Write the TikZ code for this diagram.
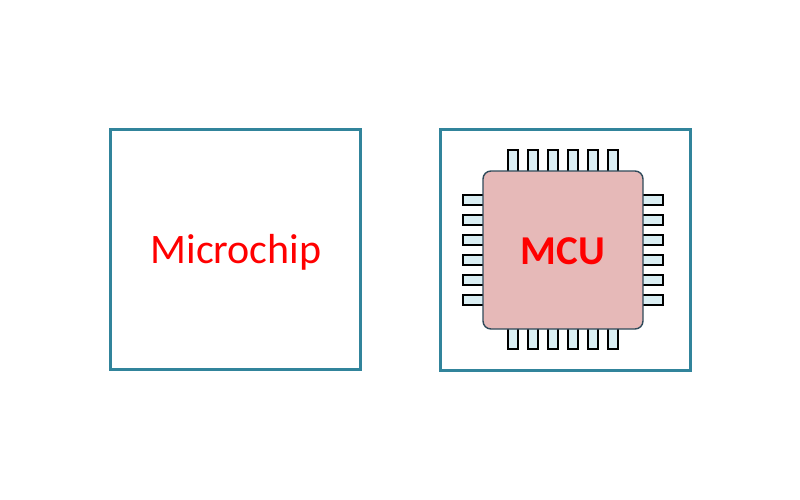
\documentclass[tikz,border=0pt]{standalone}
\usepackage{fontspec}
\setmainfont{Carlito}
\definecolor{frame}{HTML}{31849B}
\definecolor{pinfill}{HTML}{DAEEF3}
\definecolor{bodyfill}{HTML}{E6B9B8}
\definecolor{bodyline}{HTML}{2F4A5A}
\begin{document}
\begin{tikzpicture}[x=1pt,y=-1pt,
  outerbox/.style={draw=frame,line width=3pt,fill=white},
  pin/.style={draw=black,line width=1.3pt,fill=pinfill},
  chipbody/.style={draw=bodyline,line width=1.4pt,fill=bodyfill,rounded corners=8pt},
  lbl/.style={text=red,font=\fontsize{42}{46}\selectfont}]
\useasboundingbox (0,0) rectangle (800,500);
\fill[white] (0,0) rectangle (800,500);
\draw[outerbox] (110,130) rectangle (360,369);
\node[lbl] (micro) at (236,252) {Microchip};
\draw[outerbox] (440,130) rectangle (690,370);
\foreach \x in {513,533,553,573,593,613}{
  \draw[pin] (\x-5,150) rectangle (\x+5,172);
  \draw[pin] (\x-5,328) rectangle (\x+5,349);
}
\foreach \y in {200,220,240,260,280,300}{
  \draw[pin] (463,\y-5) rectangle (485,\y+5);
  \draw[pin] (641,\y-5) rectangle (663,\y+5);
}
\draw[chipbody] (483,171) rectangle (643,329);
\node[lbl,font=\bfseries\fontsize{41}{45}\selectfont] (mcu) at (563,251) {MCU};
\end{tikzpicture}
\end{document}
